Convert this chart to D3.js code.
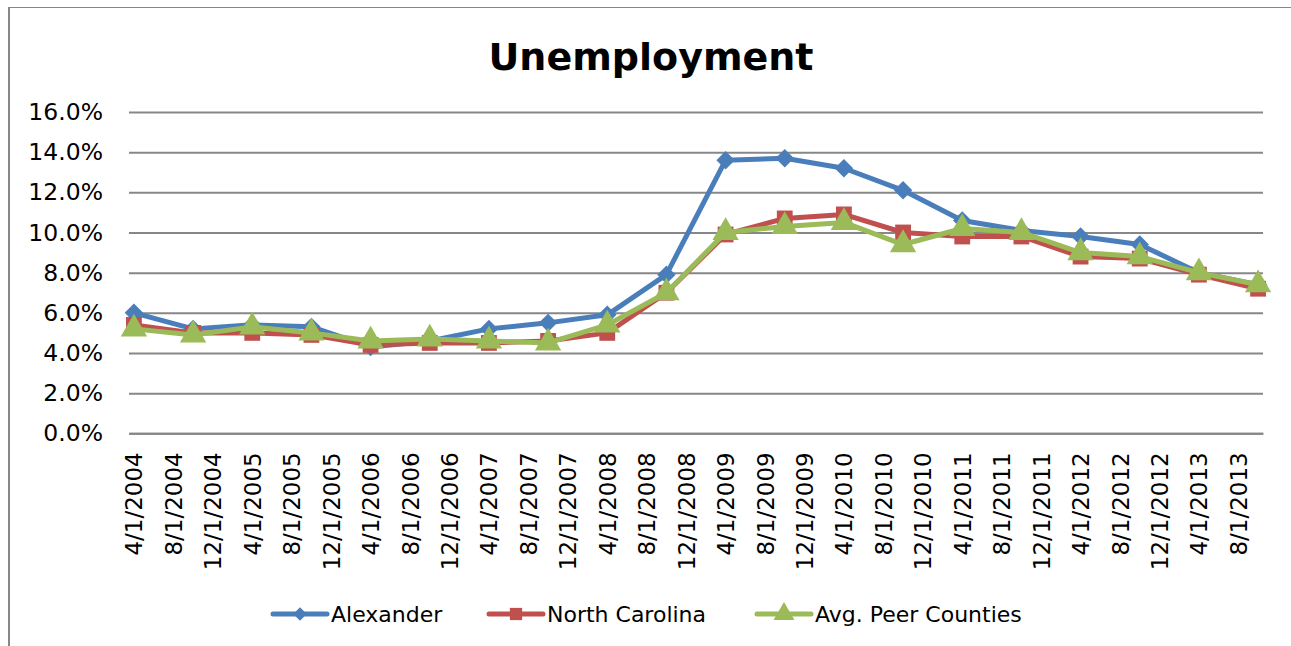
<!DOCTYPE html>
<html><head><meta charset="utf-8">
<script src="https://cdn.jsdelivr.net/npm/d3@7"></script>
<style>body{margin:0;background:#fff} svg{display:block}</style>
</head><body><svg id="c" width="1291" height="646"></svg>
<script>
const dates = ["4/1/2004","10/1/2004","4/1/2005","10/1/2005","4/1/2006","10/1/2006","4/1/2007","10/1/2007","4/1/2008","10/1/2008",
  "4/1/2009","10/1/2009","4/1/2010","10/1/2010","4/1/2011","10/1/2011","4/1/2012","10/1/2012","4/1/2013","10/1/2013"];
const alexander     = [6.0,5.2,5.4,5.3,4.3,4.6,5.2,5.5,5.9,7.9,13.6,13.7,13.2,12.1,10.6,10.1,9.8,9.4,8.0,7.4];
const northCarolina = [5.4,5.0,5.0,4.9,4.4,4.5,4.5,4.6,5.0,7.0,9.9,10.7,10.9,10.0,9.8,9.8,8.8,8.7,7.9,7.2];
const peerCounties  = [5.2,4.9,5.3,5.0,4.6,4.7,4.6,4.5,5.4,7.0,10.0,10.3,10.5,9.4,10.2,10.0,9.0,8.8,8.0,7.4];
const tickLabels = ["4/1/2004","8/1/2004","12/1/2004","4/1/2005","8/1/2005","12/1/2005","4/1/2006","8/1/2006","12/1/2006",
  "4/1/2007","8/1/2007","12/1/2007","4/1/2008","8/1/2008","12/1/2008","4/1/2009","8/1/2009","12/1/2009","4/1/2010",
  "8/1/2010","12/1/2010","4/1/2011","8/1/2011","12/1/2011","4/1/2012","8/1/2012","12/1/2012","4/1/2013","8/1/2013"];
const yTicks = [0,2,4,6,8,10,12,14,16];
const seriesNames = ["Alexander","North Carolina","Avg. Peer Counties"];
const seriesColors = ["#4A7EBB","#C0504D","#9BBB59"];

const FONT = "DejaVu Sans, Verdana, sans-serif";
const svg = d3.select("#c");

// chart border (left and top visible)
svg.append("line").attr("x1",9).attr("x2",9).attr("y1",7).attr("y2",646).attr("stroke","#878787").attr("stroke-width",2);
svg.append("line").attr("x1",8).attr("x2",1291).attr("y1",7.5).attr("y2",7.5).attr("stroke","#878787").attr("stroke-width",1);

function monthIndex(s){ const p = s.split("/").map(Number); return (p[2]-2004)*12 + (p[0]-4); }
const dIdx = dates.map(monthIndex);
const x = d3.scaleLinear().domain([d3.min(dIdx)-0.5, d3.max(dIdx)+0.5]).range([129,1263]);
const y = d3.scaleLinear().domain([0,16]).range([433.3,112]);

// y axis + gridlines
const yAxis = svg.append("g").attr("transform","translate(129,0)")
  .call(d3.axisLeft(y).tickValues(yTicks).tickFormat(d=>d.toFixed(1)+"%").tickSize(-(1263-129)).tickPadding(26));
yAxis.select(".domain").remove();
yAxis.selectAll(".tick line").attr("stroke","#878787").attr("stroke-width",2);
yAxis.selectAll("text").attr("font-family",FONT).attr("font-size",23.5).attr("fill","#000");

// x axis
const xAxis = svg.append("g").attr("transform","translate(0,433.3)")
  .call(d3.axisBottom(x).tickValues(tickLabels.map(monthIndex)).tickFormat((d,i)=>tickLabels[i]).tickSize(0));
xAxis.select(".domain").attr("stroke","#878787").attr("stroke-width",2);
xAxis.selectAll("text").attr("font-family",FONT).attr("font-size",23).attr("fill","#000")
  .attr("transform","rotate(-90)").attr("text-anchor","end").attr("dy","0.35em").attr("x",-19).attr("y",0);

// title
svg.append("text").attr("x",651).attr("y",70).attr("text-anchor","middle")
  .attr("font-family",FONT).attr("font-weight","bold").attr("font-size",38).attr("fill","#000").text("Unemployment");

const seriesData = [alexander, northCarolina, peerCounties];
const shapes = [d3.symbolSquare, d3.symbolSquare, d3.symbolTriangle];
const rot = [45, 0, 0];
const sizes = [170, 250, 300];
const line = d3.line().x((d,i)=>x(dIdx[i])).y(d=>y(d));

seriesData.forEach((vals,k)=>{
  const g = svg.append("g");
  g.append("path").datum(vals).attr("d",line).attr("fill","none").attr("stroke",seriesColors[k])
    .attr("stroke-width",5).attr("stroke-linejoin","round");
  g.selectAll("path.m").data(vals).enter().append("path").attr("class","m")
    .attr("d",d3.symbol().type(shapes[k]).size(sizes[k]))
    .attr("transform",(d,i)=>`translate(${x(dIdx[i])},${y(d)}) rotate(${rot[k]})`)
    .attr("fill",seriesColors[k]);
});

// legend
const legendX = [273, 489, 757];
const legendSizes = [90, 150, 190];
seriesNames.forEach((name,k)=>{
  const g = svg.append("g").attr("transform",`translate(${legendX[k]},614)`);
  g.append("line").attr("x1",0).attr("x2",54).attr("stroke",seriesColors[k]).attr("stroke-width",5).attr("stroke-linecap","round");
  g.append("path").attr("d",d3.symbol().type(shapes[k]).size(legendSizes[k]))
    .attr("transform",`translate(27,0) rotate(${rot[k]})`).attr("fill",seriesColors[k]);
  g.append("text").attr("x",58).attr("dy","0.35em").attr("font-family",FONT).attr("font-size",22).attr("fill","#000").text(name);
});
</script></body></html>
